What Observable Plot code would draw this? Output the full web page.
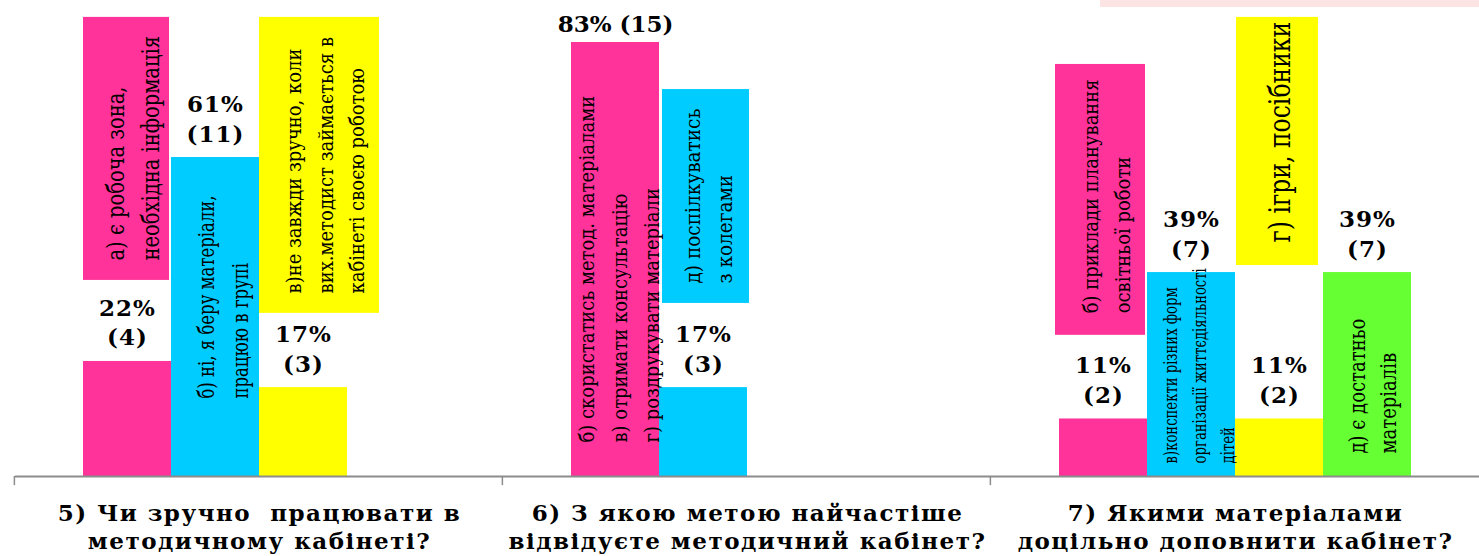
<!DOCTYPE html>
<html>
<head>
<meta charset="utf-8">
<script src="https://cdn.jsdelivr.net/npm/d3@7"></script>
<script src="https://cdn.jsdelivr.net/npm/@observablehq/plot@0.6"></script>
<style>
html, body { margin: 0; padding: 0; background: #fff; overflow: hidden; }
#chart { position: relative; }
#strip { position: absolute; top: 0; left: 1100px; width: 379px; height: 7px; background: #fde4e4; }
</style>
</head>
<body>
<div id="chart"></div>
<div id="strip"></div>
<script>
// ---------- data ----------
const questions = [
  "5) Чи зручно  працювати в\nметодичному кабінеті?",
  "6) З якою метою найчастіше\nвідвідуєте методичний кабінет?",
  "7) Якими матеріалами\nдоцільно доповнити кабінет?"
];
const seriesKeys = ["s1", "s2", "s3", "s4"];
const seriesColors = ["#ff3399", "#00ccff", "#ffff00", "#66ff33"];

const q5Percent = [22, 61, 17];
const q5Count = [4, 11, 3];
const q5Answers = [
  "а) є робоча зона,\nнеобхідна інформація",
  "б) ні, я беру матеріали,\nпрацюю в групі",
  "в)не завжди зручно, коли\nвих.методист займається в\nкабінеті своєю роботою"
];

const q6Percent = [83, 17];
const q6Count = [15, 3];
const q6Answers = [
  "б) скористатись метод. матеріалами\nв) отримати консультацію\nг) роздрукувати матеріали",
  "д) поспілкуватись\nз колегами"
];

const q7Percent = [11, 39, 11, 39];
const q7Count = [2, 7, 2, 7];
const q7Answers = [
  "б) приклади планування\nосвітньої роботи",
  "в)конспекти різних форм\nорганізації життєдіяльності\nдітей",
  "г) ігри, посібники",
  "д) є достатньо\nматеріалів"
];

// ---------- table built from the arrays ----------
const bars = [];
[[q5Percent, q5Count, q5Answers], [q6Percent, q6Count, q6Answers], [q7Percent, q7Count, q7Answers]]
  .forEach(([p, c, a], qi) => p.forEach((v, j) => bars.push({
    question: questions[qi], series: seriesKeys[j], pct: v, count: c[j], answer: a[j]
  })));

// ---------- annotation layout (placement of the answer captions, in % units) ----------
const answerLayout = [
  {q: 0, s: 0, box: [37.5, 87.8], start: 41.3, size: 19.5, k: 1.25, lh: 1.43, dx: 3, il: 0, ir: 2},
  {q: 0, s: 1, box: null,         start: 14.9, size: 16.5, k: 1.3, lh: 1.585, dx: 5},
  {q: 0, s: 2, box: [31.2, 87.8], start: 35.0, size: 18, k: 1.1, lh: 1.59, dx: 19, il: 0, ir: -32},
  {q: 1, s: 0, box: null,         start: 6.5,  size: 18, k: 1.15, lh: 1.57, dx: 1},
  {q: 1, s: 1, box: [33.1, 74.0], start: 36.9, size: 18.5, k: 1.15, lh: 1.5, dx: 2, il: 3, ir: -2},
  {q: 2, s: 0, box: [27.0, 78.8], start: 31.2, size: 18, k: 1.15, lh: 1.59, dx: 0, il: -4, ir: 2},
  {q: 2, s: 1, box: null,         start: 2.5,  size: 13.2, k: 1.45, lh: 1.49, dx: 5},
  {q: 2, s: 2, box: [40.35, 87.8], start: 44.75, size: 23.5, k: 1.3, lh: 1.2, dx: -1, il: 1, ir: 5},
  {q: 2, s: 3, box: null,         start: 4.4,  size: 18, k: 1.25, lh: 1.38, dx: 3}
];

const W = 1479, H = 556, ML = 14, MB = 80;
const po = 0.7528;
const step = ((W - ML) / questions.length) / (seriesKeys.length + 2 * po);

const marks = [];
// caption boxes
answerLayout.forEach((L, i) => {
  if (!L.box) return;
  const d = bars.find(b => b.question === questions[L.q] && b.series === seriesKeys[L.s]);
  marks.push(Plot.barY([d], {
    fx: "question", x: "series", y1: () => L.box[0], y2: () => L.box[1],
    fill: "series", insetLeft: L.il, insetRight: L.ir
  }));
});
// bars
marks.push(Plot.barY(bars, {fx: "question", x: "series", y: "pct", fill: "series"}));
// axis line and ticks at category boundaries
marks.push(Plot.ruleY([0], {stroke: "#8c8c8c", strokeWidth: 2}));
marks.push(Plot.ruleX(questions, {
  fx: d => d, x: () => seriesKeys[0], y1: 0, y2: -1.75,
  dx: -(po + 0.5) * step - 2, stroke: "#8c8c8c", strokeWidth: 1.5
}));
// value labels
marks.push(Plot.text(bars.filter(d => d.pct < 80), {
  fx: "question", x: "series", y: "pct",
  text: d => `${d.pct}%\n(${d.count})`,
  lineAnchor: "bottom", dy: -16, fontSize: 23, fontWeight: "bold", lineHeight: 1.3, fill: "black",
  ariaDescription: "values"
}));
marks.push(Plot.text(bars.filter(d => d.pct >= 80), {
  fx: "question", x: "series", y: "pct",
  text: d => `${d.pct}% (${d.count})`,
  lineAnchor: "bottom", dy: -10, fontSize: 23, fontWeight: "bold", fill: "black"
}));
// rotated answer captions
answerLayout.forEach((L, i) => {
  const d = bars.find(b => b.question === questions[L.q] && b.series === seriesKeys[L.s]);
  marks.push(Plot.text([d], {
    fx: "question", x: "series", y: () => L.start, text: "answer",
    rotate: -90, textAnchor: "start", lineAnchor: "middle",
    fontSize: L.size, lineHeight: L.lh, dx: L.dx, fill: "black",
    ariaDescription: "answer-" + i
  }));
});
// category labels
marks.push(Plot.axisFx({
  anchor: "bottom", tickSize: 0, tickPadding: 25, fontSize: 23, fontWeight: "bold",
  lineHeight: 1.22, label: null, fill: "black", ariaDescription: "categories"
}));

const svg = Plot.plot({
  width: W, height: H,
  marginLeft: ML, marginRight: 0, marginTop: 0, marginBottom: MB,
  style: {fontFamily: "DejaVu Serif", background: "white", overflow: "visible"},
  fx: {domain: questions, padding: 0},
  x: {domain: seriesKeys, paddingInner: 0, paddingOuter: po, axis: null},
  y: {domain: [0, 476 / 5.229], axis: null},
  color: {domain: seriesKeys, range: seriesColors},
  marks
});

const root = d3.select(svg);
// widen glyph height of rotated captions
answerLayout.forEach((L, i) => {
  root.selectAll(`[aria-description="answer-${i}"] text`).each(function () {
    const t = this.getAttribute("transform") || "";
    this.setAttribute("transform", t + ` scale(1,${L.k})`);
  });
});
root.selectAll(`[aria-description="categories"] text`).style("letter-spacing", "1.5px");
root.selectAll(`[aria-description="values"] text`).style("letter-spacing", "1px");

document.getElementById("chart").appendChild(svg);
</script>
</body>
</html>
